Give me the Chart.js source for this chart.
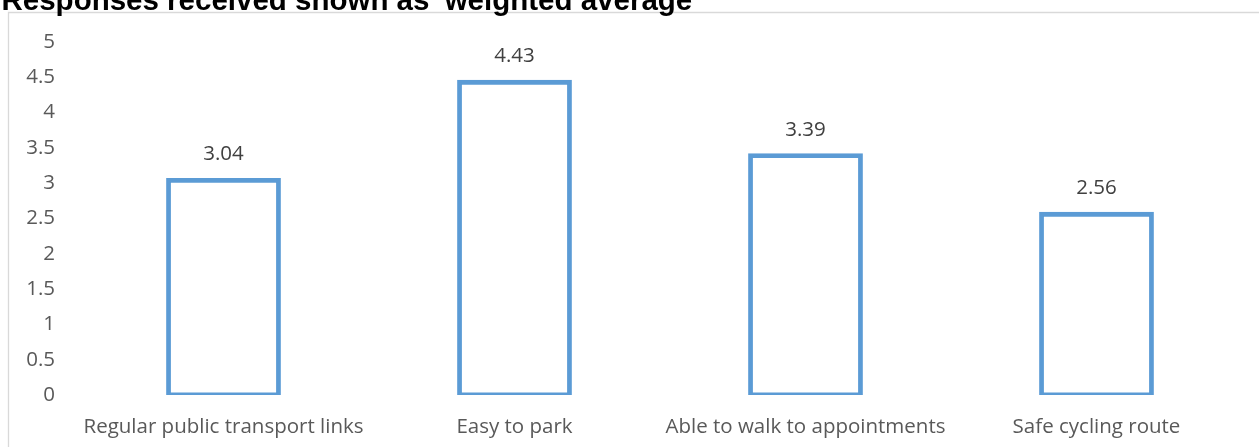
<!DOCTYPE html>
<html>
<head>
<meta charset="utf-8">
<script src="https://cdn.jsdelivr.net/npm/chart.js@4/dist/chart.umd.min.js"></script>
<style>
  html, body { margin: 0; padding: 0; background: #ffffff; }
  #wrap { position: relative; width: 1259px; height: 447px; overflow: hidden; }
  canvas { display: block; }
</style>
</head>
<body>
<div id="wrap"><canvas id="c" width="1259" height="447"></canvas></div>
<script>
const titleText = "Responses received shown as 'weighted average'";
const categories = ["Regular public transport links", "Easy to park", "Able to walk to appointments", "Safe cycling route"];
const values = [3.04, 4.43, 3.39, 2.56];
const yTicks = [0, 0.5, 1, 1.5, 2, 2.5, 3, 3.5, 4, 4.5, 5];

const labelFont = { family: "'Open Sans', sans-serif", size: 20.5 };

const framePlugin = {
  id: 'frame',
  beforeDraw(chart) {
    const ctx = chart.ctx;
    ctx.save();
    ctx.fillStyle = '#ffffff';
    ctx.fillRect(0, 0, chart.width, chart.height);
    ctx.strokeStyle = '#d9d9d9';
    ctx.lineWidth = 1.3;
    ctx.beginPath();
    ctx.moveTo(8.5, chart.height + 5);
    ctx.lineTo(8.5, 12.5);
    ctx.lineTo(chart.width + 5, 12.5);
    ctx.stroke();
    ctx.restore();
  },
  afterDraw(chart) {
    const ctx = chart.ctx;
    ctx.save();
    ctx.font = "bold 29.5px 'Liberation Sans', Arial, sans-serif";
    ctx.fillStyle = '#000000';
    ctx.textAlign = 'left';
    ctx.textBaseline = 'alphabetic';
    ctx.fillText(titleText, 1.5, 10);
    // data labels
    const meta = chart.getDatasetMeta(0);
    ctx.font = "20.5px 'Open Sans', sans-serif";
    ctx.fillStyle = '#404040';
    ctx.textAlign = 'center';
    ctx.textBaseline = 'middle';
    meta.data.forEach((bar, i) => {
      ctx.fillText(values[i].toFixed(2), bar.x, bar.y - 26);
    });
    ctx.restore();
  }
};

new Chart(document.getElementById('c'), {
  type: 'bar',
  data: {
    labels: categories,
    datasets: [{
      data: values,
      backgroundColor: '#ffffff',
      borderColor: '#5b9bd5',
      borderWidth: 4.8,
      borderSkipped: false,
      inflateAmount: 2.4,
      barPercentage: 0.378,
      categoryPercentage: 1
    }]
  },
  options: {
    responsive: false,
    animation: false,
    devicePixelRatio: 1,
    layout: { padding: { left: 0, right: 17, top: 42, bottom: 0 } },
    plugins: { legend: { display: false }, tooltip: { enabled: false }, title: { display: false } },
    scales: {
      x: {
        grid: { display: false, drawTicks: false },
        border: { display: false },
        ticks: { color: '#595959', font: labelFont, padding: 20, maxRotation: 0, autoSkip: false },
        afterFit(s) { s.height = 52; }
      },
      y: {
        min: 0, max: 5,
        afterBuildTicks(s) { s.ticks = yTicks.map(v => ({ value: v })); },
        grid: { display: false, drawTicks: false },
        border: { display: false },
        ticks: { color: '#595959', font: labelFont, padding: 23, callback: v => String(v) },
        afterFit(s) { s.width = 78; }
      }
    }
  },
  plugins: [framePlugin]
});
</script>
</body>
</html>
